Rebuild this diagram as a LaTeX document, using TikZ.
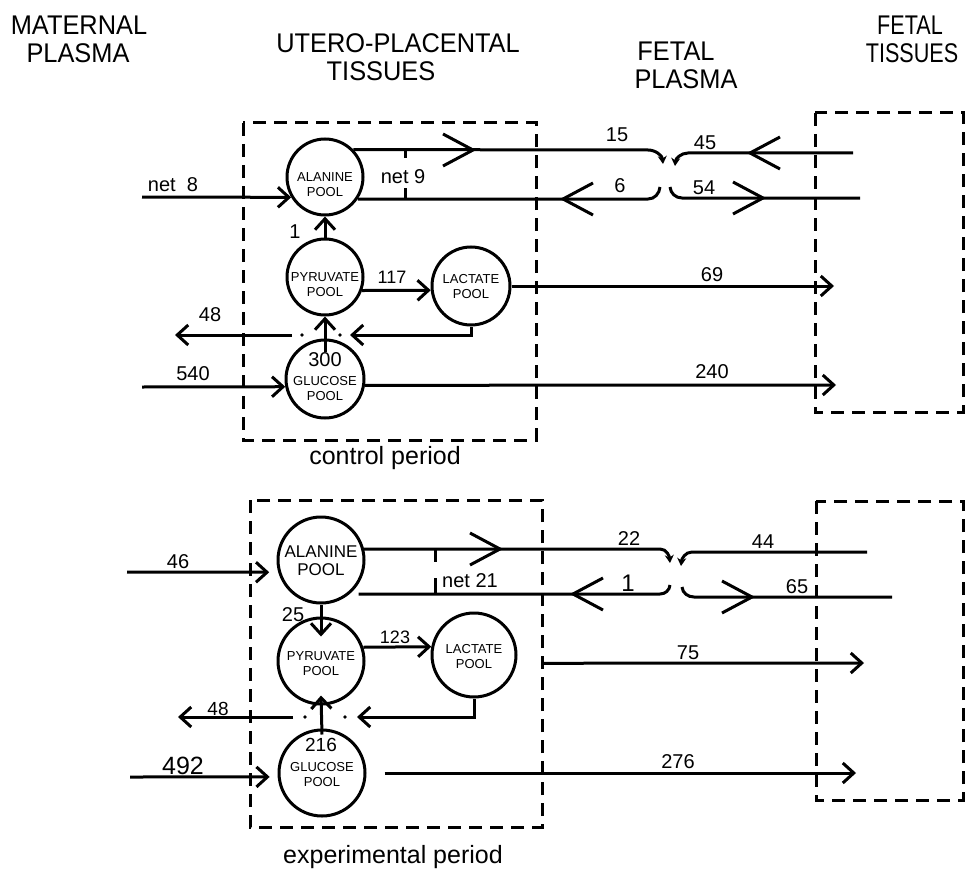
\documentclass[tikz,border=0pt]{standalone}
\usepackage{fontspec}
\usepackage{graphicx}
\setmainfont{Liberation Sans}
\usetikzlibrary{arrows.meta}
\newcommand\hdtxt[2]{\scalebox{#1}[1]{#2}}
\tikzset{
  chevR/.pic={\draw[line width=3pt] (-30,-16) -- (0,0) -- (-30,16);},
  chevL/.pic={\draw[line width=3pt] (30,-16) -- (0,0) -- (30,16);},
}
\begin{document}
\begin{tikzpicture}[x=1pt,y=-1pt,
  ln/.style={line width=3pt},
  arr/.style={line width=3pt,-{Straight Barb[length=11pt,width=20pt,line width=3pt]}},
  sarr/.style={line width=3pt,-{Stealth[length=8pt,width=9pt]}},
  box/.style={line width=3pt,dash pattern=on 13pt off 8pt},
  pool/.style={circle,draw,line width=3pt,inner sep=0pt},
  ptxt/.style={align=center,inner sep=0pt,font=\fontsize{13}{15}\selectfont},
  lbl/.style={inner sep=0pt,font=\fontsize{20}{22}\selectfont},
  head/.style={inner sep=0pt,font=\fontsize{27}{30}\selectfont},
  captxt/.style={inner sep=0pt,font=\fontsize{25}{28}\selectfont},
]
\useasboundingbox (0,0) rectangle (965,869);

% ---------- headers ----------
\node[head] (hM1) at (79,25) {\hdtxt{0.94}{MATERNAL}};
\node[head] (hM2) at (78,53) {\hdtxt{0.94}{PLASMA}};
\node[head] (hU1) at (398,43) {\hdtxt{0.94}{UTERO-PLACENTAL}};
\node[head] (hU2) at (381,71) {\hdtxt{0.94}{TISSUES}};
\node[head] (hP1) at (676,51) {\hdtxt{0.94}{FETAL}};
\node[head] (hP2) at (686,79) {\hdtxt{0.94}{PLASMA}};
\node[head] (hT1) at (910,25) {\hdtxt{0.8}{FETAL}};
\node[head] (hT2) at (912,53) {\hdtxt{0.8}{TISSUES}};

% ================= CONTROL PERIOD =================
\draw[box] (243,123) rectangle (536,440);
\draw[box] (815,113) rectangle (963,412);
\node[captxt] (cp) at (385,458) {control period};

\node[pool,minimum size=76pt] (ala1) at (325,177) {};
\node[pool,minimum size=76pt] (pyr1) at (325,277) {};
\node[pool,minimum size=78pt] (lac1) at (471,286) {};
\node[pool,minimum size=78pt] (glu1) at (325,379) {};
\node[ptxt] (ala1t) at (325,185) {ALANINE\\POOL};
\node[ptxt] (pyr1t) at (325,285) {PYRUVATE\\POOL};
\node[ptxt] (lac1t) at (471,287) {LACTATE\\POOL};
\node[ptxt] (glu1t) at (325,389) {GLUCOSE\\POOL};
\node[lbl] (g300) at (325,360) {300};

% maternal inflows
\coordinate (m8) at (142,197);
\draw[arr] (m8) -- (ala1.211);
\node[lbl] (l8) at (173,185) {net\ \ 8};
\coordinate (m540) at (142,387);
\draw[arr] (m540) -- (glu1.191);
\node[lbl] (l540) at (193,374) {540};

% pyruvate -> alanine
\draw[arr] (pyr1) -- (ala1);
\node[lbl] (l1) at (295,232) {1};
% pyruvate -> lactate
\draw[arr] (pyr1.-20) -- (lac1.186);
\node[lbl,font=\fontsize{18}{20}\selectfont] (l117) at (392,277) {117};
% glucose -> pyruvate
\draw[arr] ([yshift=-13pt]glu1.north) -- (pyr1.south);
% lactate -> back, 48 out
\coordinate (lb1) at (350,335);
\draw[arr] (lac1.south) |- (lb1);
\fill (302,335) circle (1.8pt);
\fill (340,335) circle (1.8pt);
\coordinate (o48a) at (292,335);
\coordinate (o48b) at (175,335);
\draw[arr] (o48a) -- (o48b);
\node[lbl] (l48) at (210,315) {48};

% to fetal tissues
\coordinate (f69) at (834,286);
\draw[arr] (lac1.east) -- (f69);
\node[lbl] (l69) at (712,275) {69};
\coordinate (f240) at (836,385);
\draw[arr] (glu1.-9) -- (f240);
\node[lbl] (l240) at (712,372) {240};

% alanine exchange
\coordinate (a15) at (663,164);
\draw[sarr] (ala1.44) -- (648,150) to[out=0,in=95] (a15);
\pic at (473,150) {chevR};
\draw[ln] (405,150) -- (405,158);
\coordinate (a6) at (660,187);
\draw[ln] (ala1.-34) -- (648,199) to[out=0,in=-95] (a6);
\pic at (563,199) {chevL};
\draw[ln] (405,199) -- (405,188);
\node[lbl] (n9) at (403,177) {net 9};
\node[lbl] (l15) at (617,135) {15};
\node[lbl] (l6) at (620,186) {6};

\coordinate (s45) at (853,153);
\coordinate (a45) at (675,166);
\draw[sarr] (s45) -- (688,153) to[out=180,in=85] (a45);
\pic at (750,153) {chevL};
\node[lbl] (l45) at (705,143) {45};
\coordinate (s54) at (670,187);
\coordinate (e54) at (860,198);
\draw[ln] (s54) to[out=-85,in=180] (682,198) -- (e54);
\pic at (763,198) {chevR};
\node[lbl] (l54) at (704,188) {54};

% ================= EXPERIMENTAL PERIOD =================
\draw[box] (250,500) rectangle (542,827);
\draw[box] (816,501) rectangle (963,800);
\node[captxt] (ep) at (393,857) {experimental period};

\node[pool,minimum size=86pt] (ala2) at (321,560) {};
\node[pool,minimum size=86pt] (pyr2) at (321,661) {};
\node[pool,minimum size=84pt] (lac2) at (474,655) {};
\node[pool,minimum size=86pt] (glu2) at (322,773) {};
\node[ptxt,font=\fontsize{17}{18}\selectfont] (ala2t) at (321,561) {ALANINE\\POOL};
\node[ptxt] (pyr2t) at (321,664) {PYRUVATE\\POOL};
\node[ptxt] (lac2t) at (474,657) {LACTATE\\POOL};
\node[ptxt] (glu2t) at (322,775) {GLUCOSE\\POOL};
\node[lbl,font=\fontsize{19}{20}\selectfont] (g216) at (321,745) {216};

% maternal inflows
\coordinate (m46) at (127,572);
\draw[arr,shorten >=9pt] (m46) -- (ala2.196);
\node[lbl] (l46) at (178,562) {46};
\coordinate (m492) at (130,777);
\draw[arr,shorten >=8pt] (m492) -- (glu2.185);
\node[lbl,font=\fontsize{25}{26}\selectfont] (l492) at (183,766) {492};

% alanine -> pyruvate
\draw[arr] (ala2.south) -- ([yshift=-20pt]pyr2.north);
\node[lbl] (l25) at (293,615) {25};
% pyruvate -> lactate
\draw[arr] (pyr2.18) -- (lac2.169);
\node[lbl,font=\fontsize{18}{20}\selectfont] (l123) at (395,637) {123};
% glucose -> pyruvate
\draw[arr] ([yshift=-6pt]glu2.north) -- ([yshift=10pt]pyr2.south);
% lactate back, 48 out
\coordinate (lb2) at (357,717);
\draw[arr] (lac2.south) |- (lb2);
\fill (305,717) circle (1.8pt);
\fill (345,717) circle (1.8pt);
\coordinate (p48a) at (293,717);
\coordinate (p48b) at (178,717);
\draw[arr] (p48a) -- (p48b);
\node[lbl,font=\fontsize{19}{20}\selectfont] (m48) at (218,709) {48};

% to fetal tissues
\coordinate (f75) at (864,663);
\draw[arr,shorten <=26pt] (lac2.-11) -- (f75);
\node[lbl] (l75) at (688,653) {75};
\coordinate (f276) at (856,773);
\draw[arr,shorten <=18pt] (glu2.east) -- (f276);
\node[lbl] (l276) at (678,762) {276};

% alanine exchange
\coordinate (a22) at (670,563);
\draw[sarr] (ala2.14) -- (660,549) to[out=0,in=95] (a22);
\pic at (500,549) {chevR};
\draw[ln] (435,549) -- (435,562);
\coordinate (a1) at (670,585);
\draw[ln,shorten <=9pt] (ala2.-50) -- (660,594) to[out=0,in=-95] (a1);
\pic at (573,594) {chevL};
\draw[ln] (435,594) -- (435,578);
\node[lbl] (n21) at (470,581) {net 21};
\node[lbl] (l22) at (629,539) {22};
\node[lbl,font=\fontsize{24}{26}\selectfont] (l1b) at (628,583) {1};

\coordinate (s44) at (867,552);
\coordinate (a44) at (681,566);
\draw[sarr] (s44) -- (692,552) to[out=180,in=85] (a44);
\node[lbl] (l44) at (763,542) {44};
\coordinate (s65) at (682,587);
\coordinate (e65) at (892,597);
\draw[ln] (s65) to[out=-85,in=180] (694,597) -- (e65);
\pic at (752,597) {chevR};
\node[lbl] (l65) at (797,587) {65};

\end{tikzpicture}
\end{document}
